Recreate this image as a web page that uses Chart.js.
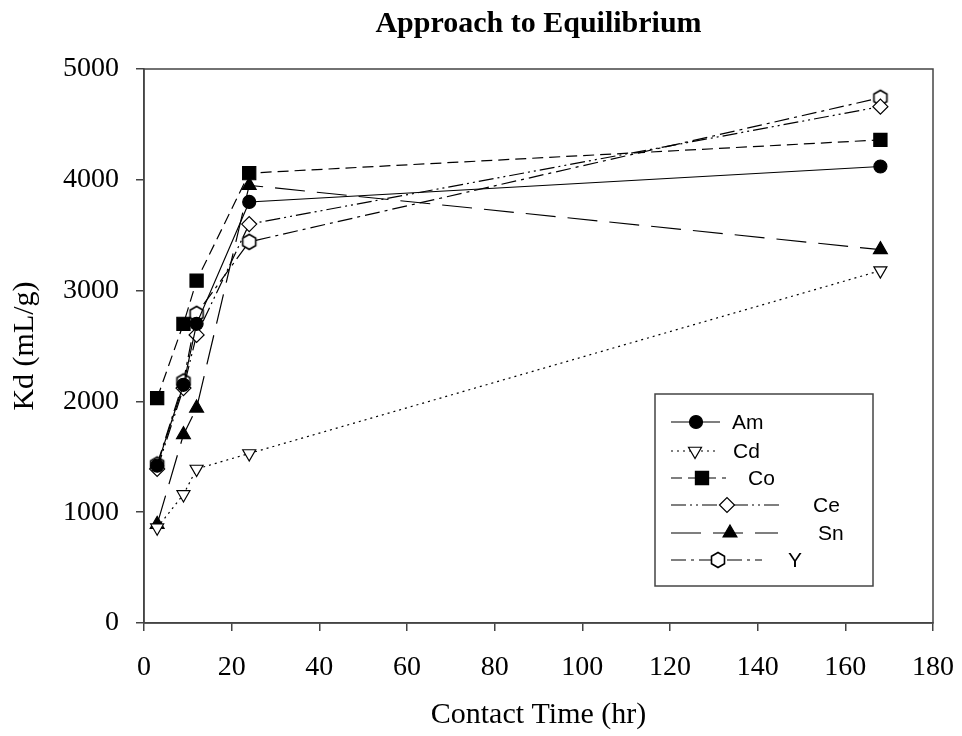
<!DOCTYPE html>
<html>
<head>
<meta charset="utf-8">
<script src="https://cdn.jsdelivr.net/npm/chart.js@4.4.1/dist/chart.umd.min.js"></script>
<style>
  html, body { margin: 0; padding: 0; background: #fff; }
  #wrap { width: 962px; height: 736px; }
</style>
</head>
<body>
<div id="wrap"><canvas id="kdChart" width="962" height="736"></canvas></div>
<script>
// contact time (hr)
const times = [3, 9, 12, 24, 168];

// Kd values (mL/g) per element
const amValues = [1420, 2150, 2700, 3800, 4120];
const cdValues = [860, 1160, 1390, 1530, 3180];
const coValues = [2030, 2700, 3090, 4060, 4360];
const ceValues = [1390, 2120, 2600, 3600, 4660];
const snValues = [890, 1700, 1940, 3950, 3370];
const yValues  = [1430, 2180, 2790, 3440, 4740];

const seriesNames = ['Am', 'Cd', 'Co', 'Ce', 'Sn', 'Y'];
const xTicks = [0, 20, 40, 60, 80, 100, 120, 140, 160, 180];
const yTicks = [0, 1000, 2000, 3000, 4000, 5000];

// open hexagon marker (Chart.js has no hexagon point style)
function makeHexagon(r) {
    const size = 2 * Math.ceil(r + 2);
    const c = document.createElement('canvas');
    c.width = size; c.height = size;
    const g = c.getContext('2d');
    g.beginPath();
    for (let i = 0; i < 6; i++) {
        const a = Math.PI / 2 + i * Math.PI / 3;
        const px = size / 2 + r * Math.cos(a);
        const py = size / 2 - r * Math.sin(a);
        if (i === 0) g.moveTo(px, py); else g.lineTo(px, py);
    }
    g.closePath();
    g.fillStyle = '#fff';
    g.fill();
    g.lineWidth = 1.6;
    g.strokeStyle = '#000';
    g.stroke();
    return c;
}
const hexagon = makeHexagon(7.5);

function toPoints(values) {
    return times.map((t, i) => ({ x: t, y: values[i] }));
}

const styles = [
    { data: amValues, pointStyle: 'circle',   radius: 6.5, fill: '#000', dash: [],                 rot: 0 },
    { data: cdValues, pointStyle: 'triangle', radius: 7.5, fill: '#fff', dash: [2, 4],             rot: 180 },
    { data: coValues, pointStyle: 'rect',     radius: 9.3, fill: '#000', dash: [11, 6],            rot: 0 },
    { data: ceValues, pointStyle: 'rectRot',  radius: 7.5, fill: '#fff', dash: [15, 4, 2, 4, 2, 4], rot: 0 },
    { data: snValues, pointStyle: 'triangle', radius: 8,   fill: '#000', dash: [30, 12],           rot: 0 },
    { data: yValues,  pointStyle: hexagon,    radius: 7.5, fill: '#fff', dash: [15, 5, 3, 5],      rot: 0 }
];

const datasets = styles.map((s, i) => ({
    label: seriesNames[i],
    data: toPoints(s.data),
    borderColor: '#000',
    borderWidth: 1.2,
    borderDash: s.dash,
    backgroundColor: s.fill,
    pointStyle: s.pointStyle,
    pointRadius: s.radius,
    pointHoverRadius: s.radius,
    pointRotation: s.rot,
    pointBorderColor: '#000',
    pointBackgroundColor: s.fill,
    pointBorderWidth: 1.2,
    tension: 0,
    fill: false
}));

// legend layout, following the original's uneven sample lengths
const legendRows = [
    { y: 422, lineEnd: 720, markerX: 696, textX: 732 },
    { y: 451, lineEnd: 717, markerX: 695, textX: 733 },
    { y: 478, lineEnd: 726, markerX: 702, textX: 748 },
    { y: 505, lineEnd: 780, markerX: 727, textX: 813 },
    { y: 533, lineEnd: 778, markerX: 730, textX: 818 },
    { y: 560, lineEnd: 762, markerX: 718, textX: 788 }
];

const boxLegend = {
    id: 'boxLegend',
    afterDatasetsDraw(chart) {
        const ctx = chart.ctx;
        ctx.save();
        ctx.fillStyle = '#fff';
        ctx.fillRect(655, 394, 218, 192);
        ctx.lineWidth = 1.5;
        ctx.strokeStyle = '#444';
        ctx.strokeRect(655, 394, 218, 192);

        chart.data.datasets.forEach((ds, i) => {
            const row = legendRows[i];
            ctx.save();
            ctx.strokeStyle = '#000';
            ctx.lineWidth = 1.2;
            ctx.setLineDash(ds.borderDash);
            ctx.beginPath();
            ctx.moveTo(671, row.y);
            ctx.lineTo(row.lineEnd, row.y);
            ctx.stroke();
            ctx.restore();

            ctx.save();
            ctx.strokeStyle = '#000';
            ctx.fillStyle = ds.pointBackgroundColor;
            ctx.lineWidth = 1.2;
            Chart.helpers.drawPoint(ctx, {
                pointStyle: ds.pointStyle,
                radius: ds.pointRadius,
                rotation: ds.pointRotation,
                borderWidth: 1.2
            }, Math.round(row.markerX), Math.round(row.y));
            ctx.restore();

            ctx.fillStyle = '#000';
            ctx.font = '21px "Liberation Sans", Arial, sans-serif';
            ctx.textAlign = 'left';
            ctx.textBaseline = 'middle';
            ctx.fillText(ds.label, row.textX, row.y + 1);
        });
        ctx.restore();
    }
};

// frame round the plot area, and the title centred over it
const plotFrame = {
    id: 'plotFrame',
    beforeDatasetsDraw(chart) {
        const a = chart.chartArea;
        const ctx = chart.ctx;
        ctx.save();
        ctx.strokeStyle = '#444';
        ctx.lineWidth = 1.5;
        ctx.strokeRect(a.left, a.top, a.right - a.left, a.bottom - a.top);

        ctx.fillStyle = '#000';
        ctx.font = 'bold 30px ' + serif;
        ctx.textAlign = 'center';
        ctx.textBaseline = 'alphabetic';
        ctx.fillText('Approach to Equilibrium', (a.left + a.right) / 2, 32);
        ctx.restore();
    }
};

const serif = '"Liberation Serif", "Times New Roman", serif';

new Chart(document.getElementById('kdChart'), {
    type: 'line',
    data: { datasets: datasets },
    options: {
        responsive: false,
        animation: false,
        events: [],
        layout: { padding: { left: 0, right: 29, top: 69, bottom: 0 } },
        plugins: {
            legend: { display: false },
            tooltip: { enabled: false },
            title: { display: false }
        },
        scales: {
            x: {
                type: 'linear',
                min: 0,
                max: 180,
                afterBuildTicks: s => { s.ticks = xTicks.map(v => ({ value: v })); },
                afterFit: s => { s.height = 113; s.paddingLeft = 0; s.paddingRight = 0; },
                grid: { display: true, drawOnChartArea: false, drawTicks: true, tickLength: 8, tickColor: '#444', lineWidth: 1.5 },
                border: { display: true, color: '#444', width: 1.5 },
                ticks: { color: '#000', font: { family: serif, size: 28 }, padding: 20, maxRotation: 0, callback: v => String(v) },
                title: {
                    display: true,
                    text: 'Contact Time (hr)',
                    color: '#000',
                    font: { family: serif, size: 30, lineHeight: 1.2 },
                    padding: { top: 0, bottom: 3 }
                }
            },
            y: {
                min: 0,
                max: 5000,
                afterBuildTicks: s => { s.ticks = yTicks.map(v => ({ value: v })); },
                afterFit: s => { s.width = 144; s.paddingTop = 0; s.paddingBottom = 0; },
                grid: { display: true, drawOnChartArea: false, drawTicks: true, tickLength: 8, tickColor: '#444', lineWidth: 1.5 },
                border: { display: true, color: '#444', width: 1.5 },
                ticks: { color: '#000', font: { family: serif, size: 28 }, padding: 17, callback: v => String(v) },
                title: {
                    display: true,
                    text: 'Kd (mL/g)',
                    color: '#000',
                    font: { family: serif, size: 30, lineHeight: 1.2 },
                    padding: { top: 7, bottom: 0 }
                }
            }
        }
    },
    plugins: [plotFrame, boxLegend]
});
</script>
</body>
</html>
